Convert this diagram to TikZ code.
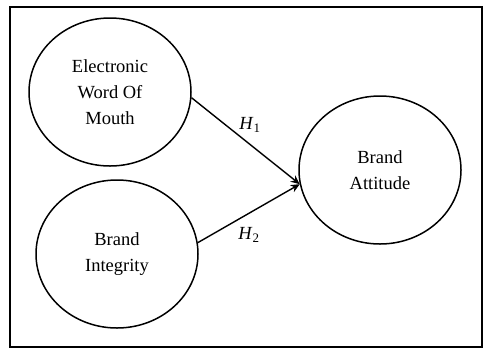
\documentclass[tikz,border=0pt]{standalone}
\usepackage{fontspec}
\setmainfont{Liberation Serif}
\usetikzlibrary{arrows.meta,shapes.geometric}
\begin{document}
\begin{tikzpicture}[x=1pt,y=-1pt,
  construct/.style={draw,ellipse,line width=1.5pt,minimum width=162pt,minimum height=148pt,
    inner sep=0pt,align=center,font=\fontsize{18.5}{26}\selectfont},
  path/.style={-{Stealth[length=9pt,width=8pt]},line width=1.4pt},
  hyp/.style={font=\fontsize{18.5}{22}\selectfont}]
  \useasboundingbox (0,0) rectangle (484,349);
  \node[draw,line width=2pt,minimum width=472pt,minimum height=340pt,inner sep=0pt] (frame) at (246,176.5) {};
  \node[construct] (ewom) at (110,92) {Electronic\\Word Of\\Mouth};
  \node[construct] (integ) at (117,254) {Brand\\Integrity};
  \node[construct] (att) at (380,170) {Brand\\Attitude};
  \draw[path] (ewom.-4) -- (att.190);
  \draw[path] (integ.8) -- (att.190);
  \node[hyp] (h1) at (250,125) {\textit{H}\textsubscript{1}};
  \node[hyp] (h2) at (249,235) {\textit{H}\textsubscript{2}};
\end{tikzpicture}
\end{document}
